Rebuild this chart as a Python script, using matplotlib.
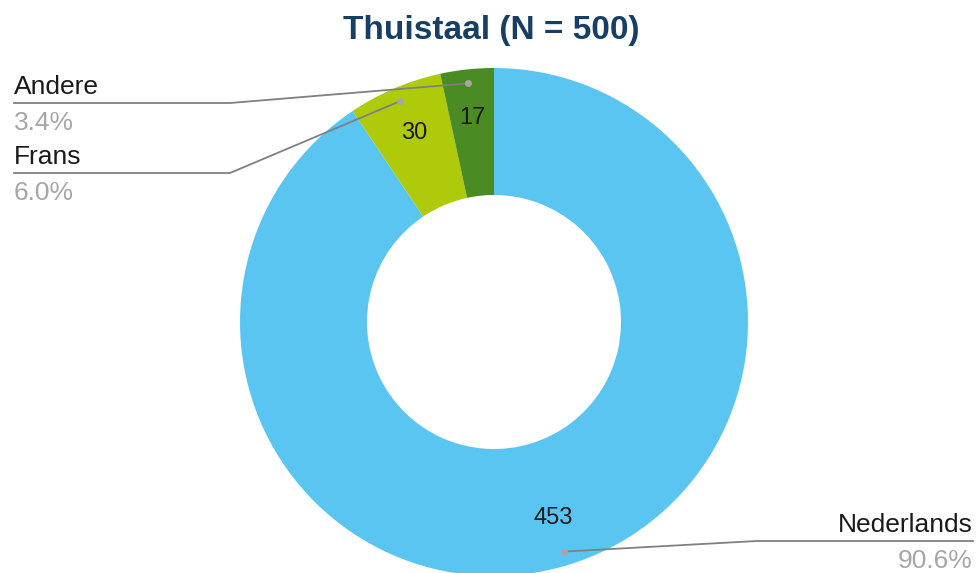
import numpy as np
import matplotlib
matplotlib.use("Agg")
import matplotlib.pyplot as plt

categories = ["Nederlands", "Frans", "Andere"]
counts = [453, 30, 17]
percent_labels = ["90.6%", "6.0%", "3.4%"]
colors = ["#5BC5F2", "#AFCA0B", "#4A8B23"]
title = "Thuistaal (N = 500)"

W, H = 979, 573
fig = plt.figure(figsize=(W / 100, H / 100), dpi=100)
ax = fig.add_axes([0, 0, 1, 1])
plt.rcParams["font.family"] = ["Liberation Sans", "DejaVu Sans"]

cx, cy = 494, H - 322
R = 254
ax.pie(counts, colors=colors, startangle=90, counterclock=False,
       radius=R, center=(cx, cy), frame=True,
       wedgeprops=dict(width=R * 0.5, edgecolor="none"))
ax.set_xlim(0, W)
ax.set_ylim(0, H)
ax.set_aspect("equal")
ax.axis("off")

total = sum(counts)
fr = np.array(counts) / total
ends = 90 - 360 * np.cumsum(fr)
starts = ends + 360 * fr
mids = np.deg2rad((starts + ends) / 2)

# value labels
for v, a in zip(counts, mids):
    r = 205
    ax.text(cx + r * np.cos(a), cy + r * np.sin(a), str(v), ha="center",
            va="center", fontsize=17, color="#1a1a1a")

# leader lines: (elbow x, elbow y(px from top), end x, side)
leaders = {
    "Nederlands": (757, 541, 973, "right"),
    "Frans": (230, 173, 14, "left"),
    "Andere": (230, 103, 14, "left"),
}
for cat, pct, a in zip(categories, percent_labels, mids):
    dx, dy = cx + 240 * np.cos(a), cy + 240 * np.sin(a)
    ex, ey, endx, side = leaders[cat]
    ey = H - ey
    ax.plot([dx, ex, endx], [dy, ey, ey], color="#808080", lw=1.3,
            solid_joinstyle="round")
    ax.plot([dx], [dy], "o", color="#A6A6A6", ms=5, mec="none")
    ha = "right" if side == "right" else "left"
    ax.text(endx, ey + 4, cat, ha=ha, va="bottom", fontsize=19,
            color="#1a1a1a")
    ax.text(endx, ey - 8, pct, ha=ha, va="top", fontsize=19,
            color="#A6A6A6")

fig.text(491 / W, 1 - 30 / H, title, ha="center", va="center",
         fontsize=24, fontweight="bold", color="#173F66")

fig.savefig("out.png", dpi=100)
